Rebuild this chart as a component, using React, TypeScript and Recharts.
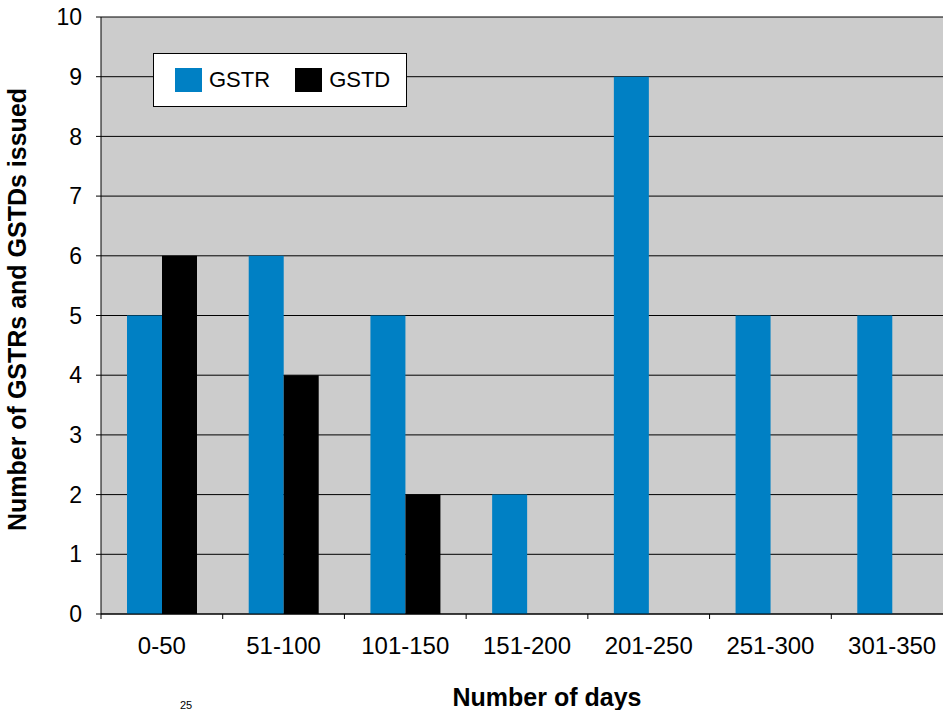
import React from 'react'
import { BarChart, Bar, XAxis, YAxis, CartesianGrid, Legend } from 'recharts'

const categories = ['0-50', '51-100', '101-150', '151-200', '201-250', '251-300', '301-350']
const gstr = [5, 6, 5, 2, 9, 5, 5]
const gstd = [6, 4, 2, 0, 0, 0, 0]
const yTicks = [0, 1, 2, 3, 4, 5, 6, 7, 8, 9, 10]
const seriesOrder = ['GSTR', 'GSTD']

const data = categories.map((c, i) => ({ range: c, GSTR: gstr[i], GSTD: gstd[i] }))

const FONT = '"Liberation Sans", Arial, Helvetica, sans-serif'
const BLUE = '#0080c4'

// tick marks sit on category boundaries, labels in the middle
const DaysTick = ({ x, y, payload, index }: any) => {
  const half = payload?.offset ?? 60.9
  return (
    <g>
      <line x1={x - half} y1={y} x2={x - half} y2={y + 5} stroke="#000" />
      {index === categories.length - 1 && (
        <line x1={x + half} y1={y} x2={x + half} y2={y + 5} stroke="#000" />
      )}
      <text x={x} y={y + 40} textAnchor="middle" fill="#000" fontSize={24} fontFamily={FONT}>
        {payload.value}
      </text>
    </g>
  )
}

const LegendBox = ({ payload }: any) => {
  const items = [...(payload || [])].sort(
    (a: any, b: any) => seriesOrder.indexOf(a.value) - seriesOrder.indexOf(b.value)
  )
  return (
    <div
      style={{
        width: 252, height: 52, background: '#fff', border: '1px solid #000',
        display: 'flex', alignItems: 'center', fontFamily: FONT, fontSize: 22, color: '#000',
        boxSizing: 'content-box',
      }}
    >
      {items.map((p: any, i: number) => (
        <div key={p.value} style={{ display: 'flex', alignItems: 'center', marginLeft: i === 0 ? 21 : 25 }}>
          <span style={{ display: 'inline-block', width: 27, height: 24, background: p.color }} />
          <span style={{ marginLeft: 7 }}>{p.value}</span>
        </div>
      ))}
    </div>
  )
}

export default function App() {
  return (
    <div style={{ position: 'absolute', left: 0, top: 0, width: 943, height: 710, overflow: 'hidden', background: '#fff' }}>
      <BarChart
        width={970}
        height={710}
        data={data}
        margin={{ top: 17, right: 17, bottom: 0, left: 0 }}
        barSize={35}
        barGap={0}
      >
        <CartesianGrid vertical={false} stroke="#000" fill="#cccccc" fillOpacity={1} />
        <XAxis
          dataKey="range"
          height={96}
          axisLine={{ stroke: '#000' }}
          tickLine={false}
          tickSize={0}
          tickMargin={0}
          interval={0}
          tick={<DaysTick />}
          label={{
            content: ({ viewBox }: any) => (
              <g>
                <text
                  x={viewBox.x + viewBox.width / 2 + 20}
                  y={viewBox.y + 92}
                  textAnchor="middle"
                  fontSize={25}
                  fontWeight="bold"
                  fontFamily={FONT}
                  fill="#000"
                >
                  Number of days
                </text>
                <text x={186} y={viewBox.y + 95} textAnchor="middle" fontSize={11} fontFamily={FONT} fill="#000">
                  25
                </text>
              </g>
            ),
          }}
        />
        <YAxis
          width={101}
          domain={[0, 10]}
          ticks={yTicks}
          interval={0}
          axisLine={{ stroke: '#000' }}
          tickLine={{ stroke: '#000' }}
          tickSize={5}
          tickMargin={14}
          tick={{ fill: '#000', fontSize: 23, fontFamily: FONT }}
          label={{
            content: ({ viewBox }: any) => {
              const cx = viewBox.x + 17
              const cy = viewBox.y + viewBox.height / 2 - 6
              return (
                <text
                  x={cx}
                  y={cy}
                  transform={`rotate(-90, ${cx}, ${cy})`}
                  textAnchor="middle"
                  dominantBaseline="central"
                  fontSize={25}
                  fontWeight="bold"
                  fontFamily={FONT}
                  fill="#000"
                >
                  Number of GSTRs and GSTDs issued
                </text>
              )
            },
          }}
        />
        <Legend
          layout="vertical"
          align="center"
          verticalAlign="middle"
          content={<LegendBox />}
          wrapperStyle={{ position: 'absolute', left: 153, top: 53, width: 'auto', height: 'auto' }}
        />
        <Bar dataKey="GSTR" fill={BLUE} isAnimationActive={false} />
        <Bar dataKey="GSTD" fill="#000" isAnimationActive={false} />
      </BarChart>
    </div>
  )
}
